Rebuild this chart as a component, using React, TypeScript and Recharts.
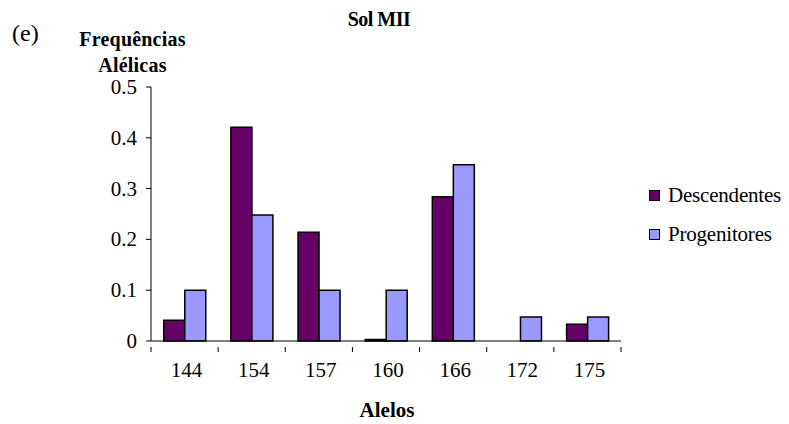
import { BarChart, Bar, XAxis, YAxis } from 'recharts'

const alelos = ['144', '154', '157', '160', '166', '172', '175']
const descendentes = [0.041, 0.421, 0.214, 0.003, 0.284, 0, 0.033]
const progenitores = [0.1, 0.248, 0.1, 0.1, 0.347, 0.047, 0.047]
const yTicks = [0, 0.1, 0.2, 0.3, 0.4, 0.5]
const series = [
  { name: 'Descendentes', color: '#660066' },
  { name: 'Progenitores', color: '#9999FF' },
]

const data = alelos.map((a, i) => ({
  alelo: a,
  Descendentes: descendentes[i],
  Progenitores: progenitores[i],
}))

const FONT = '"Liberation Serif", serif'
const BAND = 470 / alelos.length

// tick da categoria: traço nas divisões, texto no meio
function XTick(props: any) {
  const { x, y, payload, index } = props
  const left = x - BAND / 2
  return (
    <g>
      <line x1={left} y1={y - 2} x2={left} y2={y + 3} stroke="#000" />
      {index === alelos.length - 1 && (
        <line x1={x + BAND / 2} y1={y - 2} x2={x + BAND / 2} y2={y + 3} stroke="#000" />
      )}
      <text x={x + 2} y={y + 28} textAnchor="middle" style={{ fontFamily: FONT }} fontSize={21} fill="#000">
        {payload.value}
      </text>
    </g>
  )
}

function YTick(props: any) {
  const { x, y, payload } = props
  return (
    <text x={x - 7} y={y + 7} textAnchor="end" style={{ fontFamily: FONT }} fontSize={21} fill="#000">
      {payload.value}
    </text>
  )
}

export default function App() {
  return (
    <div style={{ position: 'absolute', left: 0, top: 0, width: 789, height: 424, background: '#fff', fontFamily: FONT }}>
      <div style={{ position: 'absolute', left: 0, top: 8, width: 758, textAlign: 'center', fontWeight: 'bold', fontSize: 20, letterSpacing: -0.5 }}>
        Sol MII
      </div>
      <div style={{ position: 'absolute', left: 12, top: 20, fontSize: 24 }}>(e)</div>
      <div style={{ position: 'absolute', left: 55, top: 26, width: 155, textAlign: 'center', fontWeight: 'bold', fontSize: 20, lineHeight: '26px', letterSpacing: 0.2 }}>
        Frequências<br />Alélicas
      </div>
      <div style={{ position: 'absolute', left: 151, top: 398, width: 472, textAlign: 'center', fontWeight: 'bold', fontSize: 21 }}>
        Alelos
      </div>
      <div style={{ position: 'absolute', left: 649, top: 176, fontSize: 21, letterSpacing: -0.2 }}>
        {series.map(s => (
          <div key={s.name} style={{ display: 'flex', alignItems: 'center', height: 39 }}>
            <span style={{ width: 9, height: 9, background: s.color, border: '1.5px solid #000', marginRight: 8 }} />
            {s.name}
          </div>
        ))}
      </div>
      <BarChart
        width={789}
        height={424}
        data={data}
        margin={{ top: 87, right: 168, bottom: 0, left: 0 }}
        barCategoryGap="19%"
        barGap={0}
      >
        <XAxis
          dataKey="alelo"
          height={83}
          stroke="#000"
          tickLine={false}
          tick={<XTick />}
          interval={0}
        />
        <YAxis
          width={151}
          domain={[0, 0.5]}
          ticks={yTicks}
          stroke="#000"
          tickSize={5}
          tick={<YTick />}
        />
        {series.map(s => (
          <Bar key={s.name} dataKey={s.name} fill={s.color} stroke="#000" strokeWidth={1.5} isAnimationActive={false} />
        ))}
      </BarChart>
    </div>
  )
}
